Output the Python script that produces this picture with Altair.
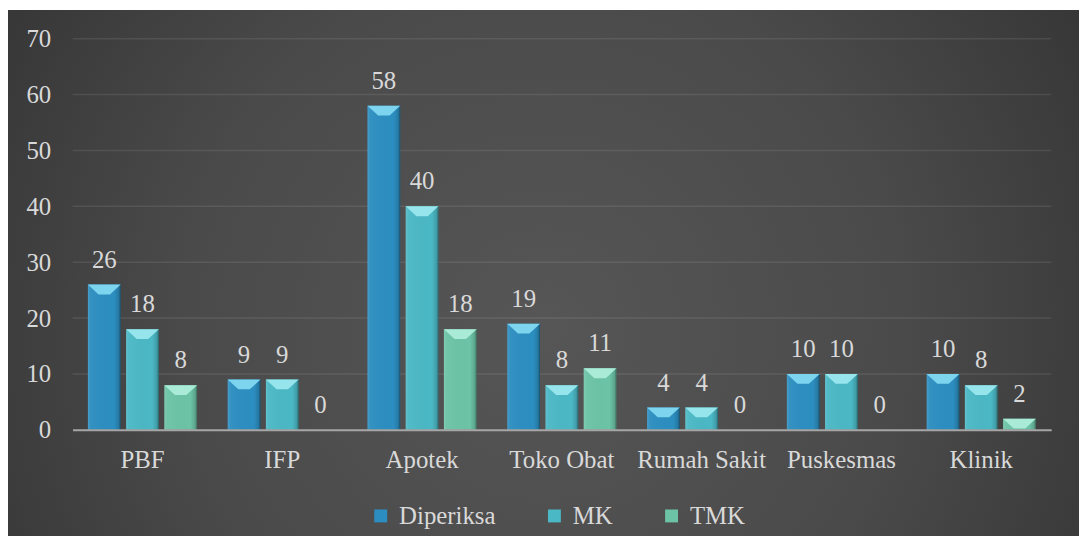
import altair as alt
import pandas as pd

categories = ["PBF", "IFP", "Apotek", "Toko Obat", "Rumah Sakit", "Puskesmas", "Klinik"]
series = ["Diperiksa", "MK", "TMK"]
diperiksa = [26, 9, 58, 19, 4, 10, 10]
mk = [18, 9, 40, 8, 4, 10, 8]
tmk = [8, 0, 18, 11, 0, 0, 2]
y_ticks = [0, 10, 20, 30, 40, 50, 60, 70]

base_colors = ["#2C8EC0", "#4BB8C5", "#6CC3A6"]
cap_colors = ["#7DD4EF", "#96E4EC", "#A9EBD6"]

rows = []
for s, vals in zip(series, [diperiksa, mk, tmk]):
    for c, v in zip(categories, vals):
        rows.append({"category": c, "series": s, "value": v})
df = pd.DataFrame(rows)

FONT = "Liberation Serif"
TXT = "#D9D9D9"
W, H = 986, 394

x_enc = alt.X("category:N", sort=categories,
              scale=alt.Scale(paddingInner=0.219, paddingOuter=0.11),
              axis=alt.Axis(title=None, labelAngle=0, labelFont=FONT, labelFontSize=25,
                            labelColor=TXT, labelPadding=18, ticks=False, domain=True,
                            domainColor="#A6A6A6", domainWidth=2, grid=False, zindex=1))
xo_enc = alt.XOffset("series:N", sort=series,
                     scale=alt.Scale(domain=series, paddingInner=0.143, paddingOuter=0))
y_enc = alt.Y("value:Q", stack=None,
              scale=alt.Scale(domain=[0, 70], nice=False),
              axis=alt.Axis(title=None, values=y_ticks, labelFont=FONT, labelFontSize=25,
                            labelColor=TXT, labelPadding=22, ticks=False, domain=False,
                            grid=False, zindex=1))

bg_grad = {"gradient": "radial", "x1": 0.5, "y1": 0.55, "r1": 0, "x2": 0.5, "y2": 0.55, "r2": 0.75,
           "stops": [{"offset": 0, "color": "#565656"},
                     {"offset": 0.45, "color": "#4a4a4a"},
                     {"offset": 1, "color": "#2a2a2a"}]}

background = alt.Chart(pd.DataFrame({"a": [0]})).mark_rect(fill=bg_grad, opacity=1).encode(
    x=alt.value(-65), x2=alt.value(W + 28), y=alt.value(-29), y2=alt.value(H + 107))

grid = alt.Chart(pd.DataFrame({"v": y_ticks[1:]})).mark_rule(
    color="#FFFFFF", opacity=0.09, strokeWidth=1.5).encode(y=alt.Y("v:Q"))

bars = alt.Chart(df).mark_bar(opacity=1, strokeWidth=0).encode(
    x=x_enc, xOffset=xo_enc, y=y_enc,
    color=alt.Color("series:N", sort=series,
                    scale=alt.Scale(domain=series, range=base_colors),
                    legend=alt.Legend(title=None, orient="none", legendX=298, legendY=468,
                                      direction="horizontal", labelFont=FONT, labelFontSize=25,
                                      labelColor=TXT, symbolType="square", symbolSize=169,
                                      symbolStrokeWidth=0, labelOffset=6, columnPadding=46,
                                      padding=0)))

shade_grad = {"gradient": "linear", "x1": 0, "y1": 0, "x2": 1, "y2": 0,
              "stops": [{"offset": 0, "color": "rgba(255,255,255,0.14)"},
                        {"offset": 0.08, "color": "rgba(255,255,255,0.04)"},
                        {"offset": 0.8, "color": "rgba(0,0,0,0.0)"},
                        {"offset": 0.94, "color": "rgba(0,0,0,0.15)"},
                        {"offset": 1, "color": "rgba(0,0,0,0.45)"}]}
shade = alt.Chart(df).mark_bar(fill=shade_grad, opacity=1, strokeWidth=0).encode(
    x=alt.X("category:N", sort=categories), xOffset=alt.XOffset("series:N", sort=series),
    y=alt.Y("value:Q", stack=None))

caps = alt.Chart(df).transform_filter("datum.value > 0").mark_point(
    shape="M-1,0L1,0L0.35,0.6L-0.35,0.6Z", size=1089, filled=True, opacity=1, strokeWidth=0
).encode(
    x=alt.X("category:N", sort=categories), xOffset=alt.XOffset("series:N", sort=series),
    y=alt.Y("value:Q", stack=None),
    fill=alt.Fill("series:N", scale=alt.Scale(domain=series, range=cap_colors), legend=None))

labels = alt.Chart(df).mark_text(font=FONT, fontSize=25, color=TXT, dy=-17,
                                 baseline="alphabetic", align="center").encode(
    x=alt.X("category:N", sort=categories), xOffset=alt.XOffset("series:N", sort=series),
    y=alt.Y("value:Q", stack=None), text=alt.Text("value:Q"))

chart = alt.layer(background, grid, bars, shade, caps, labels).properties(
    width=W, height=H, padding=0, background="#FFFFFF"
).configure_view(stroke=None)

chart.save("out.html", embed_options={"renderer": "svg", "actions": False})
